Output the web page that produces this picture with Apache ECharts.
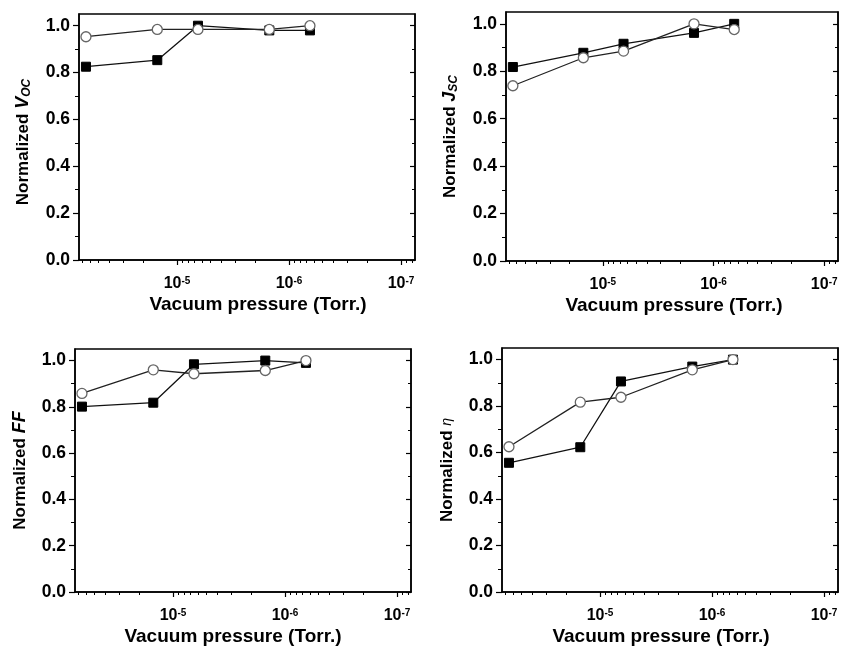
<!DOCTYPE html>
<html><head><meta charset="utf-8">
<script src="https://cdn.jsdelivr.net/npm/echarts@6/dist/echarts.min.js"></script>
<style>html,body{margin:0;padding:0;background:#fff}#c{width:843px;height:647px}</style>
</head><body><div id="c"></div>
<script>
const pressure = [6.5e-5, 1.5e-5, 6.5e-6, 1.5e-6, 6.5e-7];
const vocSquare = [0.825, 0.853, 1.0, 0.98, 0.98];
const vocCircle = [0.953, 0.984, 0.984, 0.984, 1.0];
const jscSquare = [0.818, 0.878, 0.916, 0.962, 1.0];
const jscCircle = [0.739, 0.857, 0.885, 1.0, 0.976];
const ffSquare = [0.801, 0.818, 0.984, 1.0, 0.99];
const ffCircle = [0.858, 0.96, 0.943, 0.957, 1.0];
const etaSquare = [0.556, 0.623, 0.906, 0.970, 1.0];
const etaCircle = [0.625, 0.817, 0.838, 0.956, 1.0];
const xMajorTicks = [1e-5, 1e-6, 1e-7];
const xMinorTicks = [7e-5, 6e-5, 5e-5, 4e-5, 3e-5, 2e-5,
  9e-6, 8e-6, 7e-6, 6e-6, 5e-6, 4e-6, 3e-6, 2e-6,
  9e-7, 8e-7, 7e-7, 6e-7, 5e-7, 4e-7, 3e-7, 2e-7,
  9e-8, 8e-8];
const yMajorTicks = [0, 0.2, 0.4, 0.6, 0.8, 1.0];
const yMinorTicks = [0.1, 0.3, 0.5, 0.7, 0.9];
const xLabel = 'Vacuum pressure (Torr.)';

const FONT = '"Liberation Sans", Arial, sans-serif';
const panels = [
  {grid:{left:79, top:14, width:336, height:246}, name:'{a|Normalized }{i|V}{s|OC}', sq:vocSquare, ci:vocCircle, xPad:[0,0,0,22], yPad:[0,10,0,0]},
  {grid:{left:506, top:12, width:332, height:249}, name:'{a|Normalized }{i|J}{s|SC}', sq:jscSquare, ci:jscCircle, xPad:[0,0,0,4], yPad:[0,0,0,0]},
  {grid:{left:75, top:349, width:336, height:246}, name:'{a|Normalized }{i|FF}', sq:ffSquare, ci:ffCircle, xPad:[0,20,0,0], yPad:[0,0,0,0]},
  {grid:{left:502, top:348, width:336, height:248}, name:'{a|Normalized }{g|η}', sq:etaSquare, ci:etaCircle, xPad:[0,18,0,0], yPad:[0,0,0,0]}
];

const grids=[], xAxes=[], yAxes=[], series=[];
const axLine = {show:true, lineStyle:{color:'#000', width:1.5}};
panels.forEach((p,i)=>{
  grids.push(Object.assign({show:true, borderColor:'#000', borderWidth:1.5, backgroundColor:'transparent'}, p.grid));
  xAxes.push({
    type:'log', gridIndex:i, min:7.5e-8, max:7.5e-5, inverse:true, position:'bottom',
    axisLine:axLine, splitLine:{show:false},
    axisTick:{show:true, length:5, lineStyle:{color:'#000', width:1.2}, customValues:xMajorTicks},
    axisLabel:{customValues:xMajorTicks, margin:16, color:'#000', fontFamily:FONT,
      formatter:v=>'{b|10}{e|'+Math.round(Math.log10(v))+'}',
      rich:{b:{fontSize:16, fontWeight:'bold', fontFamily:FONT, color:'#000', verticalAlign:'bottom'},
            e:{fontSize:10, fontWeight:'bold', fontFamily:FONT, color:'#000', verticalAlign:'top'}}},
    name:xLabel, nameLocation:'middle', nameGap:35,
    nameTextStyle:{fontSize:19, fontWeight:'bold', fontFamily:FONT, color:'#000', padding:p.xPad}
  });
  xAxes.push({
    type:'log', gridIndex:i, min:7.5e-8, max:7.5e-5, inverse:true, position:'bottom', offset:0,
    axisLine:{show:false}, splitLine:{show:false}, axisLabel:{show:false},
    axisTick:{show:true, length:3, lineStyle:{color:'#000', width:1}, customValues:xMinorTicks}
  });
  const yCommon = {
    type:'value', gridIndex:i, min:0, max:1.05, splitLine:{show:false}, axisLine:axLine
  };
  yAxes.push(Object.assign({}, yCommon, {
    position:'left',
    axisTick:{show:true, length:6, lineStyle:{color:'#000', width:1.2}, customValues:yMajorTicks},
    axisLabel:{customValues:yMajorTicks, color:'#000', fontSize:17.5, fontWeight:'bold', fontFamily:FONT, margin:9,
      formatter:v=>v.toFixed(1)},
    name:p.name, nameLocation:'middle', nameRotate:90, nameGap:46,
    nameTextStyle:{color:'#000', padding:p.yPad, rich:{
      a:{fontSize:17, fontWeight:'bold', fontFamily:FONT, color:'#000'},
      i:{fontSize:18, fontWeight:'bold', fontStyle:'italic', fontFamily:FONT, color:'#000'},
      g:{fontSize:14, fontStyle:'italic', fontFamily:FONT, color:'#000'},
      s:{fontSize:12, fontWeight:'bold', fontStyle:'italic', fontFamily:FONT, color:'#000', verticalAlign:'bottom', padding:[7,0,0,0]}
    }}
  }));
  yAxes.push(Object.assign({}, yCommon, {
    position:'right', axisLabel:{show:false},
    axisTick:{show:true, inside:true, length:5, lineStyle:{color:'#000', width:1.2}, customValues:yMajorTicks}
  }));
  yAxes.push(Object.assign({}, yCommon, {
    position:'left', offset:0, axisLine:{show:false}, axisLabel:{show:false},
    axisTick:{show:true, length:4, lineStyle:{color:'#000', width:1}, customValues:yMinorTicks}
  }));
  yAxes.push(Object.assign({}, yCommon, {
    position:'right', offset:0, axisLine:{show:false}, axisLabel:{show:false},
    axisTick:{show:true, inside:true, length:3, lineStyle:{color:'#000', width:1}, customValues:yMinorTicks}
  }));
  series.push({
    type:'line', xAxisIndex:2*i, yAxisIndex:4*i, data:pressure.map((x,k)=>[x,p.sq[k]]),
    symbol:'rect', symbolSize:9, itemStyle:{color:'#000', borderColor:'#000'},
    lineStyle:{color:'#111', width:1.3}, animation:false, z:3
  });
  series.push({
    type:'line', xAxisIndex:2*i, yAxisIndex:4*i, data:pressure.map((x,k)=>[x,p.ci[k]]),
    symbol:'circle', symbolSize:10, showAllSymbol:true,
    itemStyle:{color:'#fff', borderColor:'#666', borderWidth:1.3},
    lineStyle:{color:'#222', width:1.3}, animation:false, z:4
  });
});

const chart = echarts.init(document.getElementById('c'), null, {renderer:'canvas'});
chart.setOption({animation:false, grid:grids, xAxis:xAxes, yAxis:yAxes, series:series});
</script></body></html>
